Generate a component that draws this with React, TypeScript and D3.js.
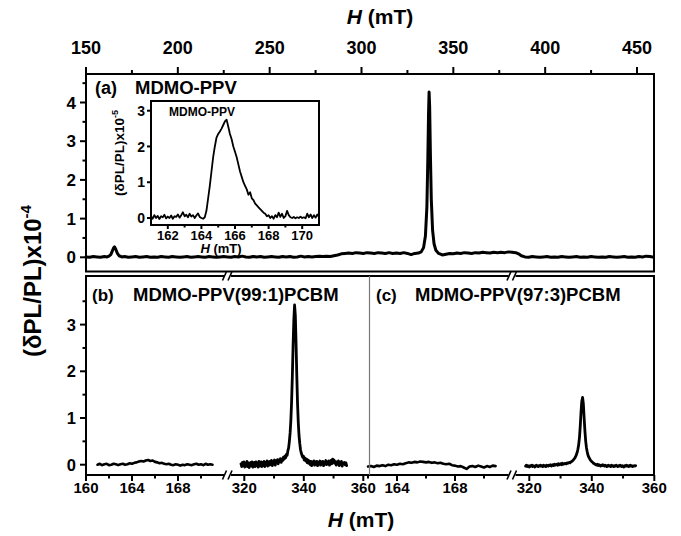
import React from 'react';
import * as d3 from 'd3';

const FONT = '"Liberation Sans", Arial, Helvetica, sans-serif';

// ---------- Axis tick values ----------
const TOP_MAJOR = [150, 200, 250, 300, 350, 400, 450];
const TOP_MINOR = [175, 225, 275, 325, 375, 425];
const A_Y_MAJOR = [0, 1, 2, 3, 4];
const A_Y_MINOR = [0.5, 1.5, 2.5, 3.5, 4.5];
const BC_Y_MAJOR = [0, 1, 2, 3];
const BC_Y_MINOR = [0.5, 1.5, 2.5, 3.5];
const B_LEFT_MAJOR = [160, 164, 168];
const B_LEFT_MINOR = [162, 166, 170];
const RIGHT_MAJOR = [320, 340, 360];
const RIGHT_MINOR = [330, 350];
const C_LEFT_MAJOR = [164, 168];
const C_LEFT_MINOR = [162, 166, 170];
const INSET_X_MAJOR = [162, 164, 166, 168, 170];
const INSET_X_MINOR = [163, 165, 167, 169];
const INSET_Y_MAJOR = [0, 1, 2, 3];

// ---------- Labels ----------
const TITLE_A = 'MDMO-PPV';
const TITLE_B = 'MDMO-PPV(99:1)PCBM';
const TITLE_C = 'MDMO-PPV(97:3)PCBM';
const INSET_TITLE = 'MDMO-PPV';

// ---------- Panel (a): full sweep, H (mT), (dPL/PL) x1e-4 ----------
const A_TRACE: [number, number][] = [
  [150, 0.01], [152, 0.0], [154, 0.02], [156, 0.01], [158, 0.0], [160, 0.02], [161.5, 0.01], [162.5, 0.03],
  [163.5, 0.07], [164.3, 0.16], [165, 0.24], [165.5, 0.27], [166.2, 0.21], [167, 0.11], [168, 0.04], [169.5, 0.01],
  [171, 0.02], [173, 0.0], [175, 0.01], [177, 0.02], [179, 0.0], [181, 0.01], [183, 0.02], [185, 0.0], [187, 0.01],
  [189, 0.0], [191, 0.02], [193, 0.01], [195, 0.0], [197, 0.02], [199, 0.01], [201, 0.0], [203, 0.01], [205, 0.02],
  [207, 0.0], [209, 0.01], [211, 0.02], [213, 0.01], [215, 0.0], [217, 0.02], [219, 0.01], [221, 0.0], [223, 0.01],
  [225, 0.02], [227, 0.01], [229, 0.0], [231, 0.02], [233, 0.01], [235, 0.03], [237, 0.01], [239, 0.0], [241, 0.02],
  [243, 0.01], [245, 0.02], [247, 0.0], [249, 0.01], [251, 0.02], [253, 0.01], [255, 0.0], [257, 0.02], [259, 0.01],
  [261, 0.02], [263, 0.0], [265, 0.01], [267, 0.03], [269, 0.01], [271, 0.02], [273, 0.01], [275, 0.02], [277, 0.03],
  [279, 0.02], [281, 0.03], [283, 0.02], [285, 0.04], [287, 0.06], [289, 0.09], [291, 0.1], [293, 0.11], [295, 0.1],
  [297, 0.12], [299, 0.11], [301, 0.1], [303, 0.12], [305, 0.11], [307, 0.1], [309, 0.12], [311, 0.11], [313, 0.1],
  [315, 0.12], [317, 0.1], [319, 0.11], [321, 0.1], [323, 0.12], [325, 0.1], [327, 0.07], [329, 0.1], [331, 0.11],
  [332.5, 0.14], [333.8, 0.25], [334.8, 0.55], [335.6, 1.3], [336.1, 2.5], [336.5, 3.7], [336.8, 4.27], [337.1, 3.9],
  [337.5, 2.7], [338, 1.5], [338.7, 0.7], [339.5, 0.35], [340.5, 0.18], [342, 0.1], [344, 0.06], [346, 0.08],
  [348, 0.1], [350, 0.09], [352, 0.11], [354, 0.1], [356, 0.12], [358, 0.11], [360, 0.1], [362, 0.12], [364, 0.11],
  [366, 0.13], [368, 0.12], [370, 0.11], [372, 0.13], [374, 0.12], [376, 0.13], [378, 0.12], [380, 0.14], [382, 0.13],
  [384, 0.12], [385.5, 0.09], [387, 0.04], [389, 0.01], [391, 0.0], [393, 0.02], [395, 0.01], [397, 0.0], [399, 0.01],
  [401, 0.02], [403, 0.0], [405, 0.01], [407, 0.0], [409, 0.02], [411, 0.01], [413, 0.0], [415, 0.01], [417, 0.02],
  [419, 0.0], [421, 0.01], [423, 0.0], [425, 0.02], [427, 0.01], [429, 0.0], [431, 0.01], [433, 0.0], [435, 0.02],
  [437, 0.01], [439, 0.0], [441, 0.01], [443, 0.02], [445, 0.0], [447, 0.01], [449, 0.0], [451, 0.02], [453, 0.01],
  [455, 0.03], [457, 0.02], [458.5, 0.01],
];

// ---------- Inset: low-field peak, (dPL/PL) x1e-5, sampled every 0.1 mT from 161 ----------
const INSET_START = 161.0;
const INSET_STEP = 0.1;
const INSET_Y = [
  0.05, -0.02, 0.08, 0.0, 0.06, -0.03, 0.05, 0.02, 0.09, -0.01,
  0.04, 0.0, 0.07, -0.02, 0.05, 0.03, 0.1, 0.01, 0.08, 0.16,
  0.05, 0.09, 0.02, 0.12, 0.04, 0.08, 0.0, 0.07, 0.13, 0.03,
  0.0, -0.02, 0.02, 0.2, 0.55, 0.9, 1.3, 1.7, 2.0, 2.25,
  2.35, 2.42, 2.5, 2.6, 2.7, 2.75, 2.55, 2.35, 2.2, 2.0,
  1.85, 1.7, 1.5, 1.3, 1.15, 1.0, 0.9, 0.8, 0.65, 0.72,
  0.55, 0.5, 0.4, 0.35, 0.3, 0.25, 0.2, 0.15, 0.12, 0.05,
  0.08, 0.0, 0.05, -0.02, 0.08, 0.02, 0.15, 0.03, 0.12, 0.0,
  0.05, 0.2, 0.08, 0.02, 0.0, 0.03, -0.01, 0.02, 0.0, 0.04,
  0.0, 0.02, -0.01, 0.12, 0.02, 0.1, 0.0, 0.08, 0.01, 0.1,
  0.03,
];

// ---------- Panel (b): MDMO-PPV(99:1)PCBM ----------
const B_LEFT_START = 161.0;
const B_LEFT_STEP = 0.2;
const B_LEFT_Y = [
  0.0, 0.02, -0.01, 0.01, 0.02, -0.01, 0.0, 0.02, 0.01, -0.01,
  0.01, 0.02, 0.0, 0.01, 0.03, 0.02, 0.04, 0.05, 0.07, 0.08,
  0.07, 0.09, 0.1, 0.08, 0.09, 0.06, 0.05, 0.03, 0.04, 0.02,
  0.01, 0.02, 0.0, -0.01, 0.01, 0.0, -0.02, 0.0, -0.01, 0.01,
  0.0, -0.01, 0.01, 0.02, 0.0, 0.01, -0.01, 0.02, 0.0, 0.01,
  0.0,
];
const B_RIGHT_START = 318.9;
const B_RIGHT_STEP = 0.25;
const B_RIGHT_Y = [
  0.02, -0.04, 0.05, -0.02, 0.06, -0.05, 0.03, -0.03, 0.07, -0.04,
  0.04, -0.06, 0.02, 0.05, -0.03, 0.06, -0.05, 0.01, 0.05, -0.04,
  0.06, -0.02, 0.04, -0.05, 0.07, -0.03, 0.02, 0.06, -0.04, 0.05,
  -0.02, 0.07, -0.04, 0.05, 0.0, 0.08, -0.03, 0.06, -0.01, 0.07,
  0.0, 0.09, -0.02, 0.06, 0.03, 0.1, -0.01, 0.08, 0.04, 0.11,
  0.02, 0.1, 0.06, 0.13, 0.05, 0.12, 0.09, 0.16, 0.12, 0.18,
  0.15, 0.22, 0.2, 0.3, 0.36, 0.5, 0.68, 0.95, 1.35, 1.9,
  2.55, 3.1, 3.42, 3.2, 2.6, 1.9, 1.3, 0.9, 0.62, 0.45,
  0.32, 0.25, 0.2, 0.16, 0.18, 0.1, 0.14, 0.08, 0.12, 0.04,
  0.1, 0.03, 0.08, 0.0, 0.07, -0.02, 0.06, 0.02, 0.08, -0.01,
  0.06, 0.01, 0.07, -0.02, 0.05, 0.03, 0.08, -0.01, 0.06, 0.02,
  0.07, -0.02, 0.05, 0.03, 0.09, 0.0, 0.06, 0.02, 0.08, -0.01,
  0.05, 0.09, 0.02, 0.12, 0.04, 0.1, 0.03, 0.07, -0.01, 0.06,
  0.02, 0.08, -0.02, 0.05, 0.01, 0.07, -0.03, 0.04, 0.02, 0.05,
  0.0, 0.04, -0.02,
];

// ---------- Panel (c): MDMO-PPV(97:3)PCBM ----------
const C_LEFT_START = 162.0;
const C_LEFT_STEP = 0.2;
const C_LEFT_Y = [
  -0.04, -0.03, -0.05, -0.02, -0.03, -0.01, -0.03, 0.0, -0.01, 0.01,
  0.0, 0.02, 0.01, 0.03, 0.05, 0.04, 0.06, 0.05, 0.07, 0.06,
  0.05, 0.06, 0.04, 0.05, 0.03, 0.04, 0.02, 0.01, 0.02, -0.01,
  -0.02, -0.04, -0.03, -0.06, -0.09, -0.04, -0.03, -0.05, -0.02, -0.04,
  -0.06, -0.03, -0.05, -0.02, -0.03,
];
const C_RIGHT_START = 318.8;
const C_RIGHT_STEP = 0.25;
const C_RIGHT_Y = [
  -0.03, -0.01, -0.04, -0.02, -0.03, -0.05, -0.02, -0.03, -0.01, -0.04,
  -0.02, -0.03, -0.05, -0.02, -0.01, -0.03, -0.04, -0.02, -0.03, -0.01,
  -0.03, -0.02, -0.04, -0.01, -0.03, -0.02, -0.04, -0.01, -0.02, -0.03,
  -0.01, -0.02, 0.0, -0.03, -0.01, 0.0, -0.02, 0.01, -0.01, 0.0,
  0.01, -0.01, 0.02, 0.0, 0.01, 0.02, 0.0, 0.03, 0.01, 0.02,
  0.02, 0.03, 0.02, 0.04, 0.03, 0.04, 0.05, 0.04, 0.06, 0.07,
  0.08, 0.1, 0.12, 0.14, 0.17, 0.21, 0.26, 0.33, 0.43, 0.58,
  0.82, 1.12, 1.36, 1.44, 1.3, 1.0, 0.72, 0.5, 0.36, 0.27,
  0.2, 0.16, 0.13, 0.1, 0.08, 0.06, 0.05, 0.03, 0.02, 0.01,
  0.0, -0.01, 0.01, -0.02, 0.0, -0.01, -0.03, -0.01, -0.02, 0.0,
  -0.02, -0.03, -0.01, -0.02, -0.04, -0.02, -0.01, -0.03, -0.02, -0.04,
  -0.01, -0.03, -0.02, -0.04, -0.02, -0.03, -0.01, -0.03, -0.04, -0.02,
  -0.03, -0.01, -0.02, -0.04, -0.02, -0.03, -0.05, -0.02, -0.03, -0.01,
  -0.03, -0.02, -0.04, -0.02, -0.01, -0.03, -0.02, -0.04, -0.03, -0.02,
  -0.03, -0.02,
];

const toPairs = (start: number, step: number, ys: number[]): [number, number][] =>
  ys.map((v, i) => [start + i * step, v]);

type Sc = d3.ScaleLinear<number, number>;

function Trace({ data, x, y, w }: { data: [number, number][]; x: Sc; y: Sc; w: number }) {
  const line = d3.line<[number, number]>().x((d) => x(d[0])).y((d) => y(d[1])).curve(d3.curveLinear);
  return <path d={line(data) || ''} fill="none" stroke="#000" strokeWidth={w} strokeLinejoin="round" strokeLinecap="round" />;
}

function XTicks({ x, major, minor, y0, dir, len = 6, mlen = 3.5, labels = true, fs, ly }: any) {
  return (
    <g>
      {major.map((v: number) => (
        <line key={'M' + v} x1={x(v)} x2={x(v)} y1={y0} y2={y0 + dir * len} stroke="#000" strokeWidth={2} />
      ))}
      {minor.map((v: number) => (
        <line key={'m' + v} x1={x(v)} x2={x(v)} y1={y0} y2={y0 + dir * mlen} stroke="#000" strokeWidth={2} />
      ))}
      {labels &&
        major.map((v: number) => (
          <text key={'t' + v} x={x(v)} y={ly} textAnchor="middle" fontSize={fs} fontWeight="bold" fontFamily={FONT}>
            {v}
          </text>
        ))}
    </g>
  );
}

function YTicks({ y, major, minor, x0, len = 6, mlen = 3.5, fs, lx }: any) {
  return (
    <g>
      {major.map((v: number) => (
        <line key={'M' + v} x1={x0} x2={x0 - len} y1={y(v)} y2={y(v)} stroke="#000" strokeWidth={2} />
      ))}
      {minor.map((v: number) => (
        <line key={'m' + v} x1={x0} x2={x0 - mlen} y1={y(v)} y2={y(v)} stroke="#000" strokeWidth={2} />
      ))}
      {major.map((v: number) => (
        <text key={'t' + v} x={lx} y={y(v)} dy="0.36em" textAnchor="end" fontSize={fs} fontWeight="bold" fontFamily={FONT}>
          {v}
        </text>
      ))}
    </g>
  );
}

function Break({ cx, cy }: { cx: number; cy: number }) {
  return (
    <g>
      <rect x={cx - 3.5} y={cy - 3} width={7} height={6} fill="#fff" />
      <line x1={cx - 5} y1={cy + 4.5} x2={cx - 1} y2={cy - 4.5} stroke="#000" strokeWidth={1.6} />
      <line x1={cx + 0.5} y1={cy + 4.5} x2={cx + 4.5} y2={cy - 4.5} stroke="#000" strokeWidth={1.6} />
    </g>
  );
}

export default function App() {
  const W = 681;
  const H = 536;

  // Panel (a)
  const aL = 86, aR = 654, aT = 74, aB = 271.5;
  const xA = d3.scaleLinear().domain([150, 450]).range([86, 637]);
  const yA = d3.scaleLinear().domain([0, 4]).range([257.3, 102.5]);

  // Inset
  const iL = 151, iR = 319, iT = 101, iB = 225;
  const xI = d3.scaleLinear().domain([161, 171]).range([iL, iR]);
  const yI = d3.scaleLinear().domain([0, 3]).range([218, 110.7]);

  // Panels (b),(c)
  const bT = 276, bB = 475, sep = 369.5;
  const yBC = d3.scaleLinear().domain([0, 3]).range([464.7, 324.6]);
  const xBL = d3.scaleLinear().domain([160, 168]).range([86, 178]);
  const xBR = d3.scaleLinear().domain([320, 360]).range([244.3, 363.3]);
  const xCL = d3.scaleLinear().domain([164, 168]).range([397, 455]);
  const xCR = d3.scaleLinear().domain([320, 360]).range([529.3, 654.3]);

  const breakB = 227.5;
  const breakC = 512;

  return (
    <svg
      width={W}
      height={H}
      viewBox={`0 0 ${W} ${H}`}
      style={{ position: 'absolute', left: 0, top: 0, background: '#fff' }}
      fontFamily={FONT}
    >
      <rect x={0} y={0} width={W} height={H} fill="#fff" />

      {/* ---- Top axis title ---- */}
      <text x={380} y={24} textAnchor="middle" fontSize={21} fontWeight="bold" fontFamily={FONT}>
        <tspan fontStyle="italic">H</tspan>
        <tspan> (mT)</tspan>
      </text>

      {/* ---- Panel (a) ---- */}
      <Trace data={A_TRACE} x={xA} y={yA} w={3} />
      <rect x={aL} y={aT} width={aR - aL} height={aB - aT} fill="none" stroke="#000" strokeWidth={2} />
      <XTicks x={xA} major={TOP_MAJOR} minor={TOP_MINOR} y0={aT} dir={-1} fs={18} ly={53.5} len={7} mlen={4} />
      <YTicks y={yA} major={A_Y_MAJOR} minor={A_Y_MINOR} x0={aL} fs={17} lx={76} />
      <text x={95} y={94} fontSize={18} fontWeight="bold" fontFamily={FONT}>(a)</text>
      <text x={135} y={94} fontSize={18.5} fontWeight="bold" fontFamily={FONT}>{TITLE_A}</text>

      {/* ---- Inset ---- */}
      <rect x={iL} y={iT} width={iR - iL} height={iB - iT} fill="#fff" stroke="#000" strokeWidth={2} />
      <Trace data={toPairs(INSET_START, INSET_STEP, INSET_Y)} x={xI} y={yI} w={1.8} />
      <XTicks x={xI} major={INSET_X_MAJOR} minor={INSET_X_MINOR} y0={iB} dir={1} len={4} mlen={2.5} fs={13} ly={239.5} />
      <YTicks y={yI} major={INSET_Y_MAJOR} minor={[]} x0={iL} len={4} fs={14} lx={145} />
      <text x={169} y={116} fontSize={12} fontWeight="bold" fontFamily={FONT}>{INSET_TITLE}</text>
      <text x={221} y={253} textAnchor="middle" fontSize={13} fontWeight="bold" fontFamily={FONT}>
        <tspan fontStyle="italic">H</tspan>
        <tspan> (mT)</tspan>
      </text>
      <text transform="translate(124,153) rotate(-90)" textAnchor="middle" fontSize={13.5} fontWeight="bold" fontFamily={FONT}>
        <tspan>(δPL/PL)x10</tspan>
        <tspan fontSize={9} dy={-6}>-5</tspan>
      </text>

      {/* ---- Panels (b),(c) ---- */}
      <Trace data={toPairs(B_LEFT_START, B_LEFT_STEP, B_LEFT_Y)} x={xBL} y={yBC} w={2.6} />
      <Trace data={toPairs(B_RIGHT_START, B_RIGHT_STEP, B_RIGHT_Y)} x={xBR} y={yBC} w={2.8} />
      <Trace data={toPairs(C_LEFT_START, C_LEFT_STEP, C_LEFT_Y)} x={xCL} y={yBC} w={2.6} />
      <Trace data={toPairs(C_RIGHT_START, C_RIGHT_STEP, C_RIGHT_Y)} x={xCR} y={yBC} w={2.8} />

      <rect x={aL} y={bT} width={aR - aL} height={bB - bT} fill="none" stroke="#000" strokeWidth={2} />
      <line x1={sep} x2={sep} y1={bT} y2={bB} stroke="#777" strokeWidth={1.2} />

      <YTicks y={yBC} major={BC_Y_MAJOR} minor={BC_Y_MINOR} x0={aL} fs={16.5} lx={76} />
      <XTicks x={xBL} major={B_LEFT_MAJOR} minor={B_LEFT_MINOR} y0={bB} dir={1} fs={15} ly={493} />
      <XTicks x={xBR} major={RIGHT_MAJOR} minor={RIGHT_MINOR} y0={bB} dir={1} fs={15} ly={493} />
      <XTicks x={xCL} major={C_LEFT_MAJOR} minor={C_LEFT_MINOR} y0={bB} dir={1} fs={15} ly={493} />
      <XTicks x={xCR} major={RIGHT_MAJOR} minor={RIGHT_MINOR} y0={bB} dir={1} fs={15} ly={493} />

      <Break cx={breakB} cy={bB} />
      <Break cx={breakC} cy={bB} />
      <Break cx={breakB} cy={bT} />
      <Break cx={breakC} cy={bT} />

      <text x={92} y={301} fontSize={17} fontWeight="bold" fontFamily={FONT}>(b)</text>
      <text x={133} y={301} fontSize={18.5} fontWeight="bold" fontFamily={FONT}>{TITLE_B}</text>
      <text x={376} y={301} fontSize={17} fontWeight="bold" fontFamily={FONT}>(c)</text>
      <text x={415} y={301} fontSize={18.5} fontWeight="bold" fontFamily={FONT}>{TITLE_C}</text>

      {/* ---- Bottom axis title ---- */}
      <text x={361} y={527} textAnchor="middle" fontSize={21} fontWeight="bold" fontFamily={FONT}>
        <tspan fontStyle="italic">H</tspan>
        <tspan> (mT)</tspan>
      </text>

      {/* ---- Shared y-axis title ---- */}
      <text transform="translate(41,281) rotate(-90)" textAnchor="middle" fontSize={24} fontWeight="bold" fontFamily={FONT}>
        <tspan>(δPL/PL)x10</tspan>
        <tspan fontSize={15} dy={-10}>-4</tspan>
      </text>
    </svg>
  );
}
